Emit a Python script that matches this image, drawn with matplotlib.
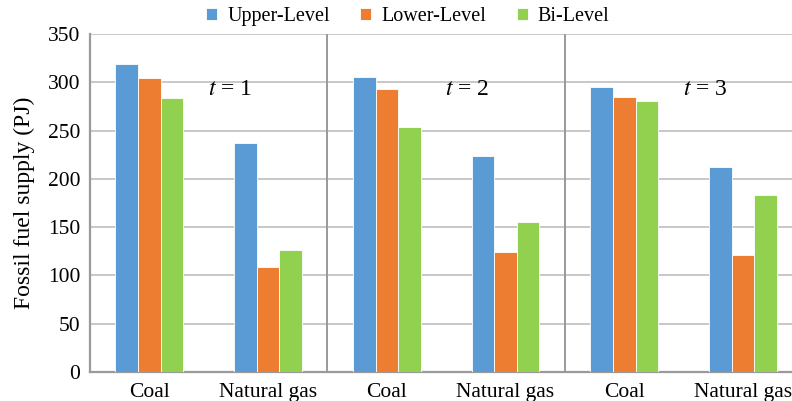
import numpy as np
import matplotlib
matplotlib.use("Agg")
import matplotlib.pyplot as plt

categories = ["Coal", "Natural gas", "Coal", "Natural gas", "Coal", "Natural gas"]
periods = ["1", "2", "3"]
series_names = ["Upper-Level", "Lower-Level", "Bi-Level"]
upper = [319, 237, 306, 224, 295, 212]
lower = [305, 109, 293, 124, 285, 121]
bilevel = [284, 126, 254, 155, 281, 183]
colors = ["#5B9BD5", "#ED7D31", "#92D050"]

plt.rcParams["font.family"] = ["Liberation Serif", "DejaVu Serif"]
plt.rcParams["mathtext.fontset"] = "stix"

fig = plt.figure(figsize=(7.92, 4.01), dpi=100)
ax = fig.add_axes([0.1136, 0.0723, 0.8995, 0.8427])

x = np.arange(len(categories))
w = 0.19
for k, (vals, name) in enumerate(zip([upper, lower, bilevel], series_names)):
    ax.bar(x + (k - 1) * w, vals, width=w, color=colors[k], label=name,
           edgecolor="white", linewidth=0.6, zorder=3)

ax.set_xlim(-0.5, len(categories) - 0.5)
ax.set_ylim(0, 350)
ax.set_yticks(np.arange(0, 351, 50))
ax.set_xticks(x)
ax.set_xticklabels(categories, fontsize=15.5)
ax.tick_params(axis="both", length=0, labelsize=15.5)
ax.tick_params(axis="x", pad=8)
ax.tick_params(axis="y", pad=7)
ax.yaxis.grid(True, color="#C8C8C8", linewidth=1.4, zorder=0)
ax.set_axisbelow(True)

for s in ["top", "right"]:
    ax.spines[s].set_visible(False)
for s in ["left", "bottom"]:
    ax.spines[s].set_color("#9A9A9A")
    ax.spines[s].set_linewidth(1.6)

for b in [1.5, 3.5]:
    ax.axvline(b, color="#9A9A9A", linewidth=1.4, zorder=2)

for i, p in enumerate(periods):
    ax.text(2 * i + 0.68, 293, "$t$ = " + p, ha="center", va="center", fontsize=17)

ax.set_ylabel("Fossil fuel supply (PJ)", fontsize=17, labelpad=9)

fig.legend(loc="center", bbox_to_anchor=(0.515, 0.958), ncol=3, frameon=False,
           fontsize=14.5, handlelength=0.55, handleheight=0.55, handletextpad=0.5,
           columnspacing=1.5)

fig.savefig("out.png", dpi=100)
